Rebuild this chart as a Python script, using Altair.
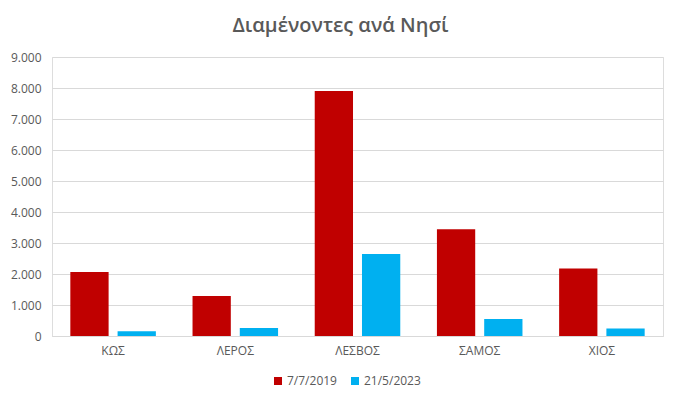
import altair as alt
import pandas as pd

islands = ["ΚΩΣ", "ΛΕΡΟΣ", "ΛΕΣΒΟΣ", "ΣΑΜΟΣ", "ΧΙΟΣ"]
series = ["7/7/2019", "21/5/2023"]
v2019 = [2065, 1290, 7900, 3440, 2180]
v2023 = [150, 260, 2645, 550, 245]
colors = ["#C00000", "#00B0F0"]

rows = []
for i, isl in enumerate(islands):
    rows.append({"island": isl, "series": series[0], "value": v2019[i]})
    rows.append({"island": isl, "series": series[1], "value": v2023[i]})
df = pd.DataFrame(rows)

FONT = "Open Sans"
GREY = "#595959"

chart = alt.Chart(df).mark_bar().encode(
    x=alt.X("island:N", sort=islands, title=None,
            scale=alt.Scale(paddingInner=0.30, paddingOuter=0.15),
            axis=alt.Axis(labelAngle=0, ticks=False, domainColor="#d9d9d9",
                          labelPadding=9, labelFontSize=12, labelColor=GREY,
                          labelFont=FONT, grid=False)),
    xOffset=alt.XOffset("series:N", sort=series, scale=alt.Scale(paddingInner=0.19)),
    y=alt.Y("value:Q", title=None,
            scale=alt.Scale(domain=[0, 9000]),
            axis=alt.Axis(values=list(range(0, 9001, 1000)), ticks=False, domain=False,
                          labelPadding=11, labelFontSize=12, labelColor=GREY,
                          labelFont=FONT, gridColor="#d9d9d9",
                          labelExpr="replace(format(datum.value, ','), ',', '.')")),
    color=alt.Color("series:N", sort=series,
                    scale=alt.Scale(domain=series, range=colors),
                    legend=alt.Legend(title=None, orient="none", direction="horizontal",
                                      legendX=220, legendY=318,
                                      symbolType="square", symbolSize=64,
                                      labelFontSize=12, labelColor=GREY, labelFont=FONT,
                                      labelOffset=3, columnPadding=12, symbolStrokeWidth=0)),
).properties(
    width=611,
    height=279,
    title=alt.TitleParams("Διαμένοντες ανά Νησί", fontSize=20, font=FONT,
                          fontWeight=600, color=GREY, anchor="middle", offset=15, dx=-17),
    autosize=alt.AutoSizeParams(type="none"),
    padding={"left": 44, "top": 49, "right": 9, "bottom": 60},
).configure_view(stroke=None).configure(background="white")

chart.save("out.html", embed_options={"renderer": "svg", "actions": False})
